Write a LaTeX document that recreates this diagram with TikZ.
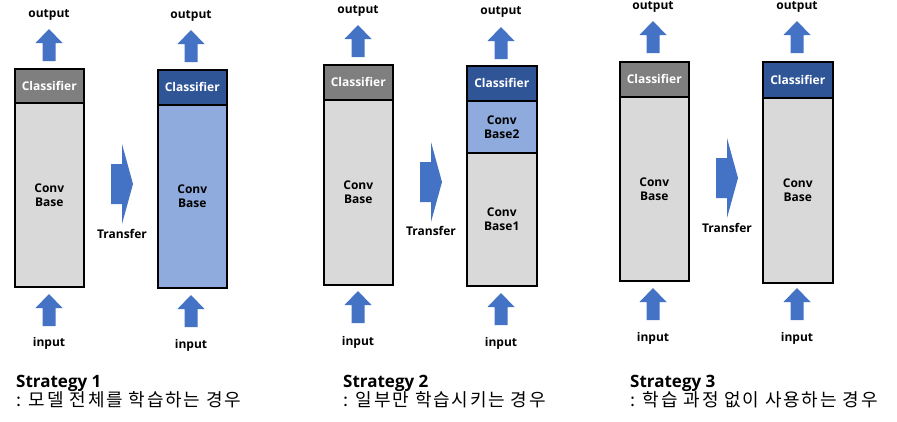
\documentclass[tikz,border=0pt]{standalone}
\usepackage{fontspec}
\setmainfont{Open Sans}
\newfontfamily\krfont[LetterSpace=10]{Noto Sans CJK KR}
\definecolor{clsgray}{HTML}{7F7F7F}
\definecolor{basegray}{HTML}{D9D9D9}
\definecolor{arrblue}{HTML}{4472C4}
\definecolor{clsblue}{HTML}{2F5597}
\definecolor{lightblue}{HTML}{8FAADC}
\begin{document}
\begin{tikzpicture}[x=1pt,y=-1pt,
  seg/.style={draw=black, line width=1.5pt, inner sep=0pt, anchor=north west,
    font=\bfseries\fontsize{12}{14}\selectfont, align=center},
  clsg/.style={seg, fill=clsgray, text=white},
  clsb/.style={seg, fill=clsblue, text=white},
  baseg/.style={seg, fill=basegray, text=black},
  baseb/.style={seg, fill=lightblue, text=black},
  lbl/.style={font=\bfseries\fontsize{12}{14}\selectfont, inner sep=0pt},
  title/.style={font=\fontsize{17}{20}\selectfont\bfseries, anchor=base west, inner sep=0pt},
  sub/.style={font=\krfont\fontsize{18}{20}\selectfont, anchor=base west, inner sep=0pt},
  uparr/.pic={\fill[arrblue] (-6.5,0) -- (6.5,0) -- (6.5,-18) -- (13.5,-18) -- (0,-32) -- (-13.5,-18) -- (-6.5,-18) -- cycle;},
  transarr/.pic={\fill[arrblue] (0,-20) -- (11,-20) -- (11,-40) -- (22,0) -- (11,40) -- (11,20) -- (0,20) -- cycle;}
]
\useasboundingbox (0,0) rectangle (897,421);
\fill[white] (0,0) rectangle (897,421);

% ---------- Strategy 1 ----------
\node[baseg, minimum width=69pt, minimum height=184pt] (s1lb) at (14,102) {Conv\\Base};
\node[clsg, minimum width=69pt, minimum height=34pt] (s1lc) at (14,68) {Classifier};
\node[lbl] (s1lo) at (49,15) {output};
\node[lbl] (s1li) at (49,343) {input};
\pic at (49,61) {uparr};
\pic at (49,326) {uparr};

\node[baseb, minimum width=69pt, minimum height=183pt] (s1rb) at (157,104) {Conv\\Base};
\node[clsb, minimum width=69pt, minimum height=35pt] (s1rc) at (157,69) {Classifier};
\node[lbl] (s1ro) at (191,16) {output};
\node[lbl] (s1ri) at (191,345) {input};
\pic at (191,62) {uparr};
\pic at (191,327) {uparr};

\pic at (111,184) {transarr};
\node[lbl] (s1t) at (122,234) {Transfer};

% ---------- Strategy 2 ----------
\node[baseg, minimum width=69pt, minimum height=185pt] (s2lb) at (323,99) {Conv\\Base};
\node[clsg, minimum width=69pt, minimum height=35pt] (s2lc) at (323,64) {Classifier};
\node[lbl] (s2lo) at (358,11) {output};
\node[lbl] (s2li) at (358,342) {input};
\pic at (358,57) {uparr};
\pic at (358,323) {uparr};

\node[baseg, minimum width=70pt, minimum height=133pt] (s2rb1) at (466,152) {Conv\\Base1};
\node[baseb, minimum width=70pt, minimum height=52pt] (s2rb2) at (466,100) {Conv\\Base2};
\node[clsb, minimum width=70pt, minimum height=35pt] (s2rc) at (466,65) {Classifier};
\node[lbl] (s2ro) at (501,12) {output};
\node[lbl] (s2ri) at (501,343) {input};
\pic at (501,59) {uparr};
\pic at (501,325) {uparr};

\pic at (420,182) {transarr};
\node[lbl] (s2t) at (431,231) {Transfer};

% ---------- Strategy 3 ----------
\node[baseg, minimum width=69pt, minimum height=184pt] (s3lb) at (619,96) {Conv\\Base};
\node[clsg, minimum width=69pt, minimum height=35pt] (s3lc) at (619,61) {Classifier};
\node[lbl] (s3lo) at (653,7) {output};
\node[lbl] (s3li) at (653,338) {input};
\pic at (653,53) {uparr};
\pic at (653,320) {uparr};

\node[baseg, minimum width=70pt, minimum height=185pt] (s3rb) at (762,97) {Conv\\Base};
\node[clsb, minimum width=70pt, minimum height=36pt] (s3rc) at (762,61) {Classifier};
\node[lbl] (s3ro) at (797,7) {output};
\node[lbl] (s3ri) at (797,338) {input};
\pic at (797,53) {uparr};
\pic at (797,320) {uparr};

\pic at (716,178) {transarr};
\node[lbl] (s3t) at (727,228) {Transfer};

% ---------- captions ----------
\node[title] (c1a) at (16,387) {Strategy 1};
\node[sub] (c1b) at (16,406) {: 모델 전체를 학습하는 경우};
\node[title] (c2a) at (343,387) {Strategy 2};
\node[sub] (c2b) at (343,406) {: 일부만 학습시키는 경우};
\node[title] (c3a) at (630,387) {Strategy 3};
\node[sub] (c3b) at (630,406) {: 학습 과정 없이 사용하는 경우};
\end{tikzpicture}
\end{document}
